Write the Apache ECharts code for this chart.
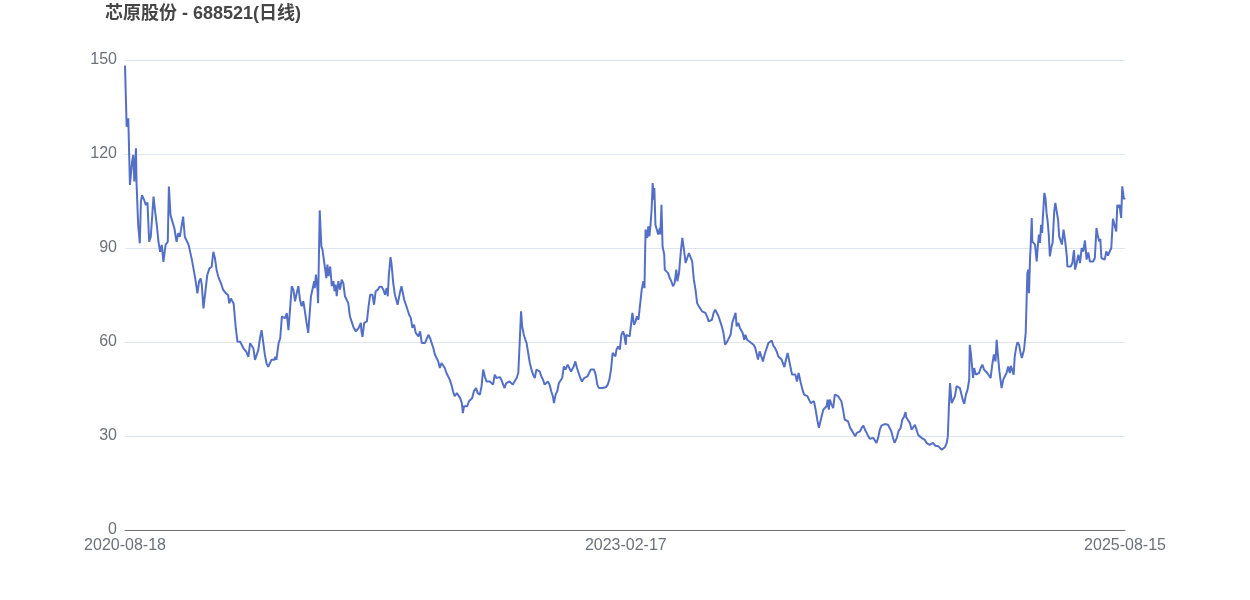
<!DOCTYPE html>
<html>
<head>
<meta charset="utf-8">
<script src="https://cdn.jsdelivr.net/npm/echarts@6/dist/echarts.min.js"></script>
<style>html,body{margin:0;padding:0;background:#fff}#chart{width:1250px;height:600px}</style>
</head>
<body>
<div id="chart"></div>
<script>
const chartTitle = '芯原股份 - 688521(日线)';
const xTickLabels = ['2020-08-18', '2023-02-17', '2025-08-15'];
const yTicks = [0, 30, 60, 90, 120, 150];

const d2020 = ['08-18','08-19','08-21','08-24','08-27','08-31','09-02','09-04','09-07','09-08','09-11','09-14','09-16','09-18','09-22','09-25','09-28','10-01','10-04','10-09','10-12','10-15','10-18','10-21','10-24','10-27','10-31','11-04','11-06','11-09','11-12','11-16','11-20','11-23','11-26','11-28','12-02','12-05','12-08','12-12','12-14','12-18','12-21','12-24','12-28','12-31'];
const p2020 = [148.2,148.0,128.7,131.4,110.1,117.6,119.7,111.2,121.8,111.0,97.3,91.5,104.8,106.9,105.3,103.7,104.5,92.0,93.6,106.4,101.6,97.3,92.0,88.8,91.0,85.6,91.0,92.0,109.6,100.5,101.1,96.3,92.0,94.7,93.6,95.7,100.0,93.6,93.1,91.0,91.5,86.2,86.7,80.3,75.5,79.3];

const d2021 = ['01-03','01-05','01-08','01-11','01-15','01-19','01-23','01-26','01-29','02-01','02-04','02-07','02-10','02-13','02-18','02-22','02-24','02-27','03-04','03-08','03-11','03-16','03-19','03-22','03-27','03-31','04-03','04-06','04-09','04-12','04-15','04-18','04-21','04-24','04-27','04-30','05-03','05-06','05-09','05-12','05-17','05-19','05-21','05-25','05-28','05-31','06-03','06-06','06-09','06-12','06-15','06-18','06-21','06-24','06-27','06-30','07-03','07-06','07-09','07-12','07-15','07-18','07-20','07-23','07-26','07-29','07-30','08-01','08-04','08-05','08-08','08-11','08-13','08-16','08-18','08-20','08-22','08-24','08-27','08-30','09-02','09-04','09-06','09-08','09-11','09-14','09-17','09-20','09-23','09-26','09-29','10-02','10-05','10-09','10-13','10-16','10-18','10-22','10-23','10-25','10-28','11-02','11-05','11-08','11-12','11-15','11-18','11-22','11-25','11-29','12-02','12-05','12-08','12-10','12-12','12-15','12-17','12-20','12-23','12-26','12-28'];
const p2021 = [80.3,78.2,70.7,70.2,81.4,83.5,84.0,88.8,86.7,83.0,80.9,80.3,78.2,76.6,75.5,75.0,72.3,73.9,72.3,64.4,60.1,60.1,60.3,58.0,56.9,55.3,59.6,59.6,58.0,54.3,55.9,57.4,61.2,63.8,63.8,55.9,53.2,52.1,53.2,54.3,54.3,55.3,54.3,59.6,61.2,68.1,67.6,67.6,69.2,63.8,70.7,77.8,76.7,73.0,75.6,77.8,73.5,71.4,73.0,69.8,66.1,62.9,62.9,74.6,75.1,79.4,77.2,81.5,76.7,72.4,102.0,90.5,89.5,90.0,83.1,80.4,84.7,81.0,84.1,77.8,79.4,76.2,78.3,74.6,79.4,76.7,79.9,78.8,74.6,74.6,72.4,68.2,66.6,64.5,63.4,63.9,64.5,66.1,63.4,61.6,66.1,66.6,71.4,75.1,75.1,71.9,76.2,76.7,77.6,77.6,76.7,75.1,77.2,74.6,81.5,87.1,84.7,78.8,75.1,74.6,71.9];

const d2022 = ['01-01','01-04','01-06','01-09','01-13','01-18','01-21','01-24','01-27','01-30','02-01','02-04','02-07','02-10','02-13','02-16','02-19','02-22','02-25','02-28','03-03','03-06','03-09','03-12','03-15','03-18','03-21','03-24','03-27','03-30','04-02','04-05','04-08','04-11','04-15','04-18','04-21','04-24','04-26','04-28','05-01','05-04','05-07','05-10','05-13','05-16','05-20','05-23','05-27','05-30','06-02','06-05','06-08','06-11','06-14','06-17','06-20','06-23','06-26','06-29','07-02','07-05','07-08','07-11','07-14','07-17','07-20','07-23','07-26','07-29','08-02','08-05','08-08','08-10','08-12','08-15','08-18','08-20','08-23','08-26','08-29','09-01','09-04','09-07','09-10','09-13','09-16','09-19','09-22','09-25','09-28','10-01','10-04','10-07','10-09','10-12','10-15','10-18','10-21','10-24','10-27','10-30','11-03','11-06','11-09','11-12','11-14','11-17','11-20','11-23','11-26','11-29','12-03','12-06','12-09','12-12','12-15','12-18','12-21','12-24','12-27','12-30'];
const p2022 = [75.6,77.8,78.3,73.5,71.4,68.7,67.7,64.5,65.5,62.9,63.4,61.8,63.4,59.7,60.2,59.7,59.7,62.3,61.3,60.7,58.1,56.0,54.9,53.8,51.7,53.3,52.8,51.7,50.1,49.6,48.0,46.4,44.3,42.7,43.7,44.3,42.1,40.5,37.3,39.5,39.5,39.5,41.1,41.6,42.1,44.3,45.3,43.7,43.2,45.9,51.2,49.0,47.4,48.0,47.4,48.0,46.4,49.6,48.5,48.0,48.8,48.0,48.5,45.3,46.9,47.4,47.4,46.9,46.4,47.4,48.5,50.1,61.8,69.8,65.0,62.3,60.7,59.7,56.5,53.3,51.2,49.6,48.5,51.2,51.7,50.6,49.0,48.0,46.4,46.9,47.4,46.4,44.3,42.7,40.5,43.2,44.3,46.9,47.4,48.5,52.2,51.2,52.8,52.2,50.6,51.2,52.2,53.8,51.7,50.1,48.5,47.4,48.5,48.0,49.0,49.6,51.2,51.7,51.2,49.6,46.4,45.3];

const d2023 = ['01-02','01-06','01-09','01-12','01-15','01-18','01-21','01-24','01-26','01-29','01-31','02-03','02-06','02-09','02-12','02-14','02-17','02-18','02-21','02-24','02-27','03-01','03-04','03-07','03-09','03-12','03-15','03-18','03-21','03-23','03-25','03-28','03-30','04-01','04-03','04-05','04-07','04-09','04-10','04-12','04-15','04-17','04-20','04-21','04-23','04-25','04-28','04-29','05-02','05-05','05-08','05-11','05-14','05-17','05-20','05-22','05-25','05-28','05-31','06-03','06-06','06-09','06-12','06-15','06-18','06-21','06-24','06-27','06-30','07-03','07-06','07-09','07-12','07-15','07-18','07-21','07-24','07-27','07-30','08-02','08-05','08-08','08-11','08-14','08-17','08-21','08-24','08-27','08-30','09-02','09-05','09-07','09-10','09-13','09-16','09-18','09-21','09-23','09-26','09-29','10-02','10-05','10-08','10-11','10-14','10-16','10-19','10-22','10-25','10-28','10-31','11-04','11-07','11-10','11-13','11-16','11-19','11-22','11-25','11-28','12-01','12-03','12-06','12-09','12-12','12-14','12-17','12-20','12-23','12-26','12-29'];
const p2023 = [44.8,45.3,45.6,45.6,46.4,48.0,51.2,56.5,57.0,55.4,57.6,58.6,57.6,62.3,63.4,62.3,59.1,62.3,61.8,61.8,62.3,69.3,65.5,66.6,68.2,67.1,67.3,76.7,79.4,77.2,95.9,93.2,96.9,93.7,97.4,102.2,110.7,105.4,109.1,97.4,98.0,94.3,96.4,94.3,103.8,90.5,87.9,83.1,83.1,82.0,80.4,79.4,77.8,78.8,83.1,79.4,82.0,88.4,93.2,89.5,85.2,85.2,88.4,87.9,85.7,79.9,76.7,72.4,71.4,71.9,69.8,69.8,69.3,68.2,66.6,66.6,67.1,69.3,70.3,69.8,68.2,66.6,65.0,62.9,59.1,60.2,59.7,62.3,66.1,66.6,69.3,65.0,66.1,64.5,65.0,62.9,60.7,62.3,60.7,60.2,59.9,60.2,59.1,58.1,58.6,54.4,57.0,57.6,53.8,56.0,57.6,59.7,59.1,60.5,58.8,58.1,57.0,55.4,54.9,54.4,53.8,52.0,54.4,56.5,56.0,52.2,49.6,49.0,49.6,47.4,50.1];

const d2024 = ['01-02','01-05','01-08','01-11','01-14','01-17','01-20','01-23','01-26','01-29','02-01','02-04','02-06','02-09','02-12','02-15','02-18','02-20','02-22','02-24','02-27','03-01','03-04','03-07','03-10','03-13','03-16','03-19','03-22','03-25','03-28','04-01','04-04','04-07','04-10','04-13','04-16','04-19','04-22','04-25','04-28','05-01','05-04','05-07','05-10','05-13','05-16','05-19','05-22','05-25','05-28','05-31','06-03','06-06','06-09','06-12','06-15','06-18','06-21','06-23','06-25','06-28','07-02','07-05','07-08','07-11','07-12','07-15','07-19','07-22','07-25','07-28','07-31','08-03','08-06','08-09','08-12','08-15','08-18','08-21','08-24','08-27','08-30','09-03','09-06','09-09','09-12','09-15','09-18','09-21','09-24','09-26','09-28','09-30','10-03','10-06','10-09','10-12','10-15','10-18','10-21','10-24','10-26','10-29','11-01','11-04','11-05','11-07','11-10','11-11','11-13','11-16','11-19','11-22','11-25','11-28','12-01','12-04','12-07','12-10','12-13','12-16','12-19','12-22','12-24','12-26','12-29'];
const p2024 = [46.9,44.8,43.2,43.7,42.7,41.6,40.5,41.1,41.1,38.4,35.2,32.6,33.1,36.3,38.4,38.4,39.5,41.6,38.4,41.6,40.0,38.9,43.2,43.2,42.7,42.1,41.1,38.4,35.2,34.7,34.7,32.6,32.0,30.9,29.9,31.0,30.7,31.5,32.6,33.3,32.0,31.0,29.9,29.1,29.7,29.4,28.8,27.8,29.4,32.0,33.3,33.6,33.8,33.6,33.6,33.1,31.5,29.4,27.8,27.2,29.4,31.5,32.6,35.2,36.1,37.6,36.1,35.2,34.1,32.0,32.6,33.6,32.0,30.3,29.7,29.4,29.4,28.8,27.8,27.2,27.2,27.2,27.8,26.9,27.2,26.7,26.9,25.6,25.6,26.5,27.8,29.8,39.5,46.9,40.5,40.0,42.7,45.9,45.6,45.3,43.2,41.1,40.3,43.2,44.8,48.0,59.1,56.5,50.6,48.5,51.7,49.6,50.1,50.1,51.7,52.8,51.2,50.6,50.1,49.6,48.5,52.8,56.0,53.8,60.7,56.5,50.6];

const d2025 = ['01-02','01-05','01-08','01-11','01-14','01-17','01-19','01-22','01-24','01-26','01-29','01-31','02-03','02-05','02-08','02-10','02-12','02-15','02-17','02-18','02-20','02-21','02-23','02-24','02-26','02-27','03-02','03-04','03-07','03-09','03-11','03-13','03-15','03-17','03-18','03-21','03-23','03-25','03-27','03-29','03-31','04-03','04-05','04-08','04-10','04-12','04-15','04-17','04-20','04-22','04-25','04-28','05-01','05-02','05-05','05-08','05-11','05-14','05-16','05-19','05-22','05-25','05-28','05-31','06-03','06-06','06-09','06-12','06-15','06-18','06-21','06-24','06-26','06-29','07-01','07-03','07-06','07-09','07-12','07-15','07-18','07-21','07-24','07-27','07-30','08-01','08-03','08-05','08-08','08-10','08-13','08-15'];
const p2025 = [45.3,48.0,48.5,50.1,52.2,50.1,52.4,52.8,49.6,55.4,58.6,59.9,59.1,57.0,54.9,54.4,57.6,62.9,75.6,82.0,83.1,75.6,87.3,90.5,99.6,92.1,92.7,91.1,85.7,90.5,94.3,91.6,97.4,94.8,99.0,107.6,106.0,101.2,98.5,94.3,87.3,90.5,91.6,101.7,104.4,104.9,99.0,93.7,93.2,91.1,95.9,92.1,87.3,84.1,84.7,84.1,85.2,89.3,83.1,85.2,87.9,85.2,90.0,88.9,92.4,86.3,88.6,85.7,86.3,85.7,86.8,96.4,94.3,92.1,92.9,86.8,86.8,86.3,88.9,87.6,87.1,90.0,99.3,99.6,95.3,103.8,102.8,103.8,99.6,109.7,105.6,106.0];

const years = [
  ['2020', d2020, p2020], ['2021', d2021, p2021], ['2022', d2022, p2022],
  ['2023', d2023, p2023], ['2024', d2024, p2024], ['2025', d2025, p2025]
];
function toTime(s) { return +echarts.time.parse(s); }
const seriesData = [];
years.forEach(function (y) {
  y[1].forEach(function (md, i) { seriesData.push([toTime(y[0] + '-' + md), y[2][i]]); });
});
const tickTimes = xTickLabels.map(toTime);

const chart = echarts.init(document.getElementById('chart'), null, { renderer: 'canvas' });
chart.setOption({
  animation: false,
  backgroundColor: '#fff',
  title: {
    text: chartTitle,
    left: 105,
    top: 5,
    padding: 0,
    textStyle: { fontSize: 18, fontWeight: 'bold', color: '#464646', fontFamily: 'Liberation Sans, Noto Sans CJK SC, sans-serif' }
  },
  grid: { left: 125, right: 125, top: 60, bottom: 70, containLabel: false },
  xAxis: {
    type: 'value',
    min: tickTimes[0],
    max: tickTimes[2],
    axisLine: { show: true, lineStyle: { color: '#6e7079', width: 1 } },
    axisTick: { show: false },
    splitLine: { show: false },
    axisLabel: {
      customValues: tickTimes,
      showMinLabel: true,
      showMaxLabel: true,
      fontSize: 16,
      color: '#6e7079',
      margin: 8,
      fontFamily: 'Liberation Sans, sans-serif',
      formatter: function (v) { return xTickLabels[tickTimes.indexOf(v)] || echarts.time.format(v, '{yyyy}-{MM}-{dd}', false); }
    }
  },
  yAxis: {
    type: 'value',
    min: yTicks[0],
    max: yTicks[yTicks.length - 1],
    interval: 30,
    axisLine: { show: false },
    axisTick: { show: false },
    splitLine: { show: true, lineStyle: { color: '#e0e6f1', width: 1 } },
    axisLabel: { fontSize: 16, color: '#6e7079', margin: 8, fontFamily: 'Liberation Sans, sans-serif' }
  },
  series: [{
    type: 'line',
    data: seriesData,
    showSymbol: false,
    symbol: 'none',
    lineStyle: { color: '#5470c6', width: 2 },
    itemStyle: { color: '#5470c6' }
  }]
});
</script>
</body>
</html>
